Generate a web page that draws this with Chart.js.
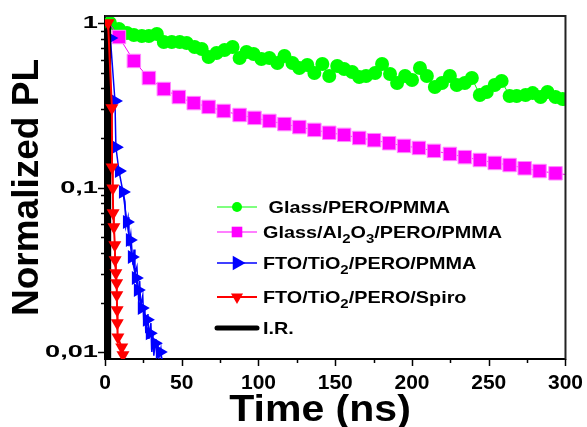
<!DOCTYPE html>
<html>
<head>
<meta charset="utf-8">
<script src="https://cdn.jsdelivr.net/npm/chart.js@4.4.1/dist/chart.umd.min.js"></script>
<style>
html,body{margin:0;padding:0;background:#fff;}
#wrap{width:587px;height:427px;}
</style>
</head>
<body>
<div id="wrap"><canvas id="pl" width="587" height="427"></canvas></div>
<script>
// PL decays, time in ns, intensity normalised to the peak

// Glass/PERO/PMMA
const glassT = [3.2, 9.1, 14.3, 18.8, 24.0, 28.6, 33.8, 38.3, 43.5, 48.7, 53.2, 58.4, 63.0, 67.5, 72.7,
  77.9, 83.1, 87.7, 92.2, 96.8, 101.9, 107.1, 112.3, 116.9, 122.1, 126.6, 131.8, 136.4, 141.6, 146.1,
  151.3, 155.8, 161.0, 165.6, 170.1, 176.0, 180.5, 185.7, 190.3, 195.5, 200.0, 205.2, 209.7, 214.9, 219.5,
  224.7, 229.2, 234.4, 239.0, 244.2, 248.7, 253.9, 258.4, 263.6, 268.2, 274.0, 278.6, 283.8, 288.3, 293.5, 298.1];
const glassV = [1.0, 0.919, 0.869, 0.845, 0.834, 0.834, 0.857, 0.766, 0.766, 0.766, 0.756, 0.715, 0.695, 0.621, 0.657,
  0.685, 0.715, 0.613, 0.666, 0.648, 0.604, 0.613, 0.571, 0.630, 0.571, 0.533, 0.556, 0.497, 0.563, 0.476,
  0.548, 0.525, 0.504, 0.469, 0.476, 0.497, 0.563, 0.490, 0.432, 0.476, 0.450, 0.533, 0.476, 0.408, 0.432,
  0.476, 0.420, 0.432, 0.463, 0.365, 0.381, 0.420, 0.444, 0.360, 0.360, 0.365, 0.375, 0.355, 0.381, 0.355, 0.345];

// Glass/Al2O3/PERO/PMMA
const aluT = [0.6, 2.6, 9.1, 18.8, 28.6, 38.3, 48.1, 57.8, 67.5, 77.3, 87.7, 97.4, 107.1, 116.9, 126.6, 136.4,
  146.1, 155.8, 165.6, 175.3, 185.1, 194.8, 204.5, 214.3, 224.7, 234.4, 244.2, 253.9, 263.6, 273.4, 283.1, 293.5, 300];
const aluV = [0.008, 1.0, 0.822, 0.588, 0.463, 0.397, 0.355, 0.326, 0.309, 0.292, 0.276, 0.265, 0.254, 0.243, 0.233, 0.224,
  0.215, 0.209, 0.200, 0.194, 0.186, 0.179, 0.174, 0.167, 0.160, 0.153, 0.147, 0.141, 0.137, 0.131, 0.126, 0.122, 0.120];

// FTO/TiO2/PERO/PMMA, marked points
const tioT = [2.6, 3.5, 6.5, 7.1, 9.1, 11.7, 14.3, 16.2, 17.5, 20.1, 21.4, 24.0, 27.3, 29.2, 32.5, 35.7, 38.0];
const tioV = [1.0, 0.81, 0.336, 0.176, 0.126, 0.094, 0.0617, 0.048, 0.0378, 0.0282, 0.0238, 0.0185, 0.0157, 0.0130, 0.0113, 0.0100, 0.0085];
// FTO/TiO2/PERO/PMMA, raw trace in the noisy tail
const tioRawT = [11.7, 13.0, 13.6, 15.0, 15.6, 16.8, 18.2, 18.9, 19.5, 20.8, 22.0, 22.6, 23.3, 24.6, 25.3, 25.9,
  26.6, 28.0, 28.6, 29.9, 30.5, 31.2, 31.8, 33.1, 33.8, 34.4, 35.1, 36.4, 37.0];
const tioRawV = [0.094, 0.082, 0.058, 0.066, 0.044, 0.052, 0.034, 0.042, 0.030, 0.033, 0.020, 0.027, 0.019, 0.022, 0.015, 0.019,
  0.013, 0.017, 0.012, 0.015, 0.010, 0.013, 0.0095, 0.012, 0.0093, 0.0115, 0.0092, 0.0105, 0.0088];

// FTO/TiO2/PERO/Spiro
const spiroT = [2.0, 4.5, 4.6, 5.1, 5.3, 5.8, 6.4, 6.6, 7.1, 7.6, 7.7, 7.9, 8.0, 8.4, 10.9, 11.7];
const spiroV = [1.0, 0.304, 0.133, 0.099, 0.070, 0.0575, 0.0447, 0.0362, 0.0302, 0.0263, 0.0222, 0.018, 0.015, 0.0123, 0.0107, 0.0096];

// instrument response
const irT = [1.6, 2.0, 2.4];
const irV = [0.008, 1.0, 0.008];

const xTickVals = [0, 25, 50, 75, 100, 125, 150, 175, 200, 225, 250, 275, 300];
const yTickVals = [0.01, 0.02, 0.03, 0.04, 0.05, 0.06, 0.07, 0.08, 0.09,
  0.1, 0.2, 0.3, 0.4, 0.5, 0.6, 0.7, 0.8, 0.9, 1];
const yLabelVals = [1, 0.1, 0.01];
const yLabelText = ['1', '0,1', '0,01'];
const xTitle = 'Time (ns)';

const legendLabels = [
  [[' Glass/PERO/PMMA', 0]],
  [['Glass/Al', 0], ['2', 1], ['O', 0], ['3', 1], ['/PERO/PMMA', 0]],
  [['FTO/TiO', 0], ['2', 1], ['/PERO/PMMA', 0]],
  [['FTO/TiO', 0], ['2', 1], ['/PERO/Spiro', 0]],
  [['I.R.', 0]]
];

const FONT = '"Liberation Sans", Arial, sans-serif';
Chart.defaults.font.family = FONT;
Chart.defaults.color = '#000';

const pairs = (t, v) => t.map((x, i) => ({x, y: v[i]}));

// text stretched sideways
function wideText(ctx, str, x, y, sx) {
  ctx.save();
  ctx.translate(x, y);
  ctx.scale(sx, 1);
  ctx.fillText(str, 0, 0);
  ctx.restore();
}

function marker(ctx, style, r, rot, x, y) {
  ctx.beginPath();
  if (style === 'circle') {
    ctx.arc(x, y, r, 0, Math.PI * 2);
  } else if (style === 'rect') {
    const s = r * Math.SQRT1_2;
    ctx.rect(x - s, y - s, 2 * s, 2 * s);
  } else if (style === 'triangle') {
    let a = rot * Math.PI / 180;
    for (let k = 0; k < 3; k++) {
      const px = x + Math.sin(a) * r, py = y - Math.cos(a) * r;
      k ? ctx.lineTo(px, py) : ctx.moveTo(px, py);
      a += Math.PI * 2 / 3;
    }
    ctx.closePath();
  }
  ctx.fill();
}

// box edges, tick marks, axis texts and the key
const decor = {
  id: 'decor',
  afterDraw(chart) {
    const {ctx, chartArea: a, scales: {x, y}} = chart;
    ctx.save();
    ctx.strokeStyle = '#222';
    ctx.lineWidth = 2;
    ctx.beginPath();
    ctx.moveTo(a.left, a.top);
    ctx.lineTo(a.right, a.top);
    ctx.lineTo(a.right, a.bottom + 1);
    ctx.stroke();

    ctx.strokeStyle = '#000';
    ctx.lineWidth = 1.5;
    ctx.beginPath();
    xTickVals.forEach(v => {
      const px = Math.round(x.getPixelForValue(v)) + 0.5;
      const len = v % 50 === 0 ? 7 : 4;
      ctx.moveTo(px, a.bottom);
      ctx.lineTo(px, a.bottom + len);
    });
    yTickVals.forEach(v => {
      const py = Math.round(y.getPixelForValue(v)) + 0.5;
      const major = yLabelVals.includes(v);
      ctx.moveTo(a.left, py);
      ctx.lineTo(a.left - (major ? 7 : 4), py);
    });
    ctx.stroke();

    ctx.fillStyle = '#000';
    ctx.font = 'bold 17px ' + FONT;
    ctx.textAlign = 'right';
    ctx.textBaseline = 'middle';
    yLabelVals.forEach((v, i) => {
      wideText(ctx, yLabelText[i], a.left - 7, y.getPixelForValue(v) + 0.5, 1.6);
    });

    ctx.font = 'bold 36px ' + FONT;
    ctx.textAlign = 'center';
    ctx.textBaseline = 'alphabetic';
    wideText(ctx, xTitle, a.left + 215, a.bottom + 62, 1.14);

    // key
    const rowY = [207, 232, 263, 297, 328];
    const lineL = a.left + 112, lineR = a.left + 152, mx = a.left + 132, tx = a.left + 158;
    const legendMarker = [5, 7.5, 8.5, 7, 0];
    ctx.textAlign = 'left';
    chart.data.datasets.slice(0, 5).forEach((ds, i) => {
      const ry = rowY[i];
      ctx.strokeStyle = ds.borderColor;
      ctx.lineWidth = i === 4 ? 5 : Math.max(ds.borderWidth, 1.2);
      ctx.lineCap = i === 4 ? 'round' : 'butt';
      ctx.beginPath();
      ctx.moveTo(lineL, ry);
      ctx.lineTo(lineR, ry);
      ctx.stroke();
      if (legendMarker[i]) {
        ctx.fillStyle = ds.pointBackgroundColor;
        marker(ctx, ds.pointStyle, legendMarker[i], ds.pointRotation || 0, mx, ry);
      }
      ctx.fillStyle = '#000';
      let cx = tx;
      legendLabels[i].forEach(([s, sub]) => {
        ctx.font = 'bold ' + (sub ? 12.5 : 16.5) + 'px ' + FONT;
        wideText(ctx, s, cx, ry + 6 + (sub ? 5 : 0), 1.2);
        cx += ctx.measureText(s).width * 1.2;
      });
    });
    ctx.restore();
  }
};

new Chart(document.getElementById('pl'), {
  type: 'line',
  data: {
    datasets: [
      {
        label: 'Glass/PERO/PMMA', data: pairs(glassT, glassV), order: 4,
        borderColor: '#00ff00', borderWidth: 1,
        pointStyle: 'circle', pointRadius: 7, pointBorderWidth: 0,
        pointBackgroundColor: '#00ff00', pointBorderColor: '#00ff00'
      },
      {
        label: 'Glass/Al2O3/PERO/PMMA', data: pairs(aluT, aluV), order: 3,
        borderColor: '#ff00ff', borderWidth: 1,
        pointStyle: 'rect', pointBorderWidth: 1,
        pointRadius: ctx => (ctx.dataIndex < 2 || ctx.dataIndex === aluT.length - 1) ? 0 : 9.5,
        pointBackgroundColor: '#ff00ff', pointBorderColor: '#ff88ff'
      },
      {
        label: 'FTO/TiO2/PERO/PMMA', data: pairs(tioT, tioV), order: 2,
        borderColor: '#0000ff', borderWidth: 1.5,
        pointStyle: 'triangle', pointRotation: 90, pointBorderWidth: 0,
        pointRadius: ctx => (ctx.dataIndex === 0 || ctx.dataIndex === tioT.length - 1) ? 0 : 8,
        pointBackgroundColor: '#0000ff', pointBorderColor: '#0000ff'
      },
      {
        label: 'FTO/TiO2/PERO/Spiro', data: pairs(spiroT, spiroV), order: -1,
        borderColor: '#ff0000', borderWidth: 2,
        pointStyle: 'triangle', pointRotation: 180, pointRadius: 7.5, pointBorderWidth: 0,
        pointBackgroundColor: '#ff0000', pointBorderColor: '#ff0000'
      },
      {
        label: 'I.R.', data: pairs(irT, irV), order: 0,
        borderColor: '#000000', borderWidth: 5, pointRadius: 0,
        pointBackgroundColor: '#000000'
      },
      {
        label: 'FTO/TiO2/PERO/PMMA trace', data: pairs(tioRawT, tioRawV), order: 2,
        borderColor: '#0000ff', borderWidth: 1.5, pointRadius: 0
      }
    ]
  },
  options: {
    responsive: false,
    animation: false,
    events: [],
    layout: {padding: {left: 0, right: 20, top: 16, bottom: 0}},
    elements: {line: {tension: 0}},
    plugins: {legend: {display: false}, tooltip: {enabled: false}},
    scales: {
      x: {
        type: 'linear', min: 0, max: 300,
        ticks: {stepSize: 50, padding: 4, color: '#000', maxRotation: 0,
          font: {size: 21, weight: 'bold'}},
        grid: {display: false},
        border: {display: true, color: '#000', width: 2},
        afterFit(s) { s.height = 68; }
      },
      y: {
        type: 'logarithmic', min: 0.00907, max: 1.103,
        afterBuildTicks(s) { s.ticks = yTickVals.map(v => ({value: v})); },
        ticks: {display: false},
        grid: {display: false},
        border: {display: true, color: '#000', width: 2},
        title: {display: true, text: 'Normalized PL', color: '#000',
          font: {size: 37, weight: 'bold', lineHeight: 1.2}, padding: {top: 6, bottom: 0}},
        afterFit(s) { s.width = 105; }
      }
    }
  },
  plugins: [decor]
});
</script>
</body>
</html>
